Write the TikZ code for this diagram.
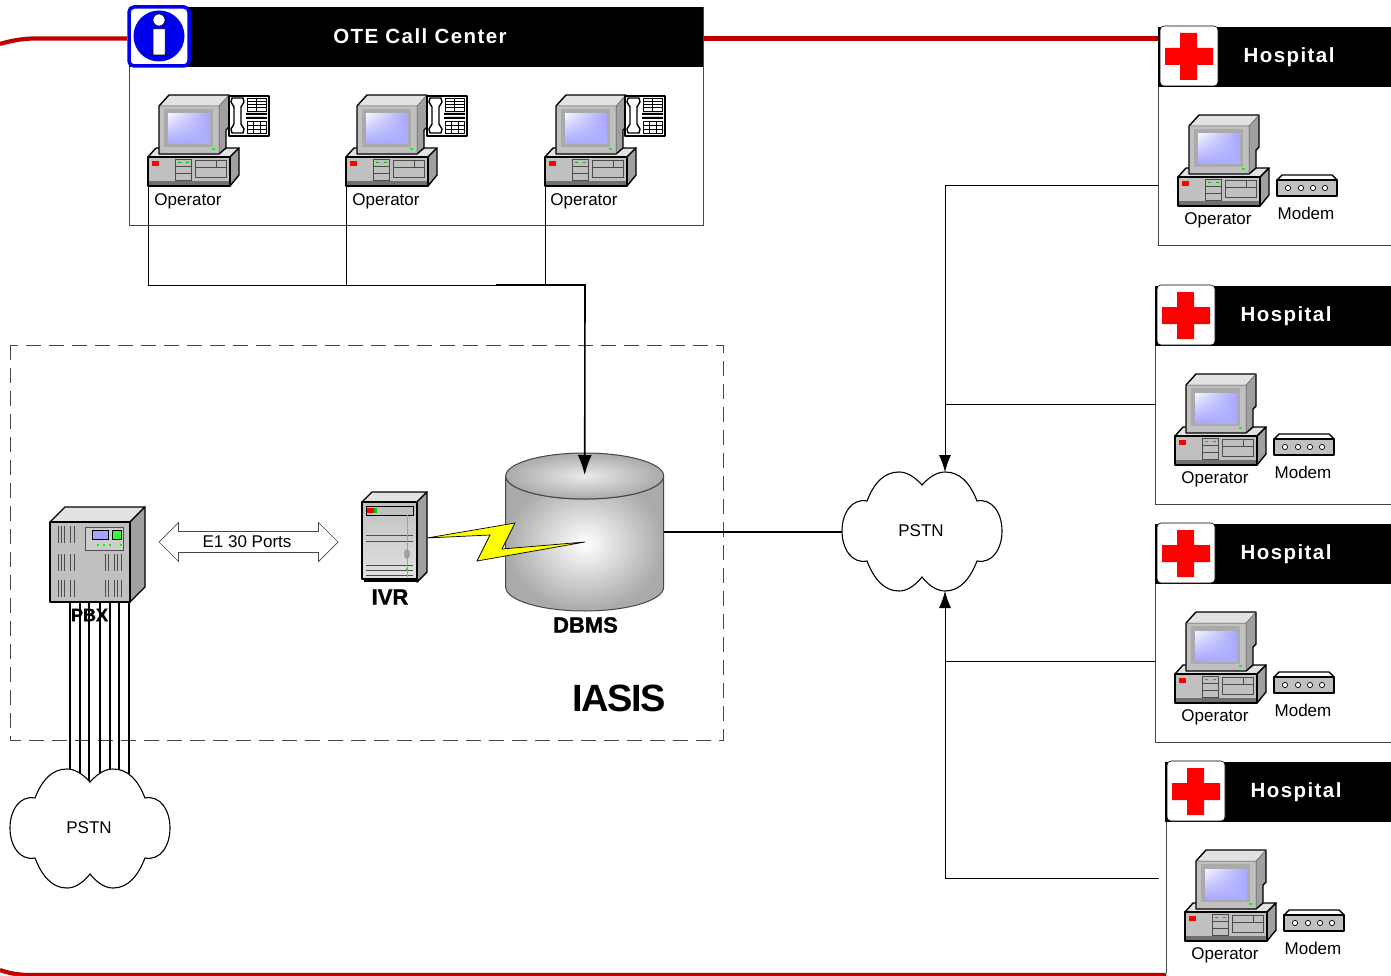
\documentclass[tikz,border=0pt]{standalone}
\usepackage{fontspec}
\setmainfont{Liberation Sans}
\newfontfamily\spacedfont[LetterSpace=7]{Liberation Sans}
\newfontfamily\tightfont[LetterSpace=-4]{Liberation Sans}
\newfontfamily\heavyfont[FakeBold=1.3]{Liberation Sans Bold}
\usetikzlibrary{arrows.meta,shapes.arrows,shadings}
\definecolor{ringred}{RGB}{192,0,0}
\definecolor{infoblue}{RGB}{0,0,240}
\definecolor{crossred}{RGB}{255,0,0}
\definecolor{boltyellow}{RGB}{255,255,0}
\definecolor{screenblue}{RGB}{165,165,255}
\definecolor{panelgrey}{RGB}{192,192,192}
\definecolor{bezelgrey}{RGB}{170,170,170}
\definecolor{sidegrey}{RGB}{160,160,160}
\definecolor{topgrey}{RGB}{226,226,226}
\definecolor{framegrey}{RGB}{70,70,70}
\begin{document}
\begin{tikzpicture}[x=1pt, y=-1pt]
\tikzset{
    lbl/.style={font=\fontsize{17}{20}\selectfont, inner sep=0pt},
    boldlbl/.style={font=\heavyfont\fontsize{#1}{#1}\selectfont, inner sep=0pt},
    headtext/.style={font=\spacedfont\bfseries\fontsize{20.5}{24}\selectfont, text=white, inner sep=0pt},
    frame/.style={draw=framegrey, line width=0.8pt},
    unit/.style={draw=black, line width=1.4pt, line join=round},
    fine/.style={draw=black!70, line width=0.5pt},
    link/.style={draw=black, line width=0.8pt},
    feed/.style={draw=black, line width=1.6pt},
    ring/.style={draw=ringred, line width=4.2pt},
    computer/.pic={
        \path[unit, fill=topgrey] (0,62) -- (8,53) -- (91,53) -- (82,62) -- cycle;
        \path[unit, fill=sidegrey] (82,62) -- (91,53) -- (91,80) -- (82,91) -- cycle;
        \path[unit, fill=panelgrey] (0,62) rectangle (82,91);
        \fill[sidegrey!70!black] (1,86) rectangle (81,90);
        \fill[crossred] (4,66) rectangle (11,71);
        \path[fine, fill=panelgrey] (27,64) rectangle (43,85);
        \draw[fine] (27,71) -- (43,71) (27,78) -- (43,78);
        \fill[green!80!black] (30,67) rectangle (33,68) (38,67) rectangle (41,68);
        \path[fine, fill=panelgrey] (47,65) rectangle (78,82);
        \draw[fine] (47,72) -- (78,72) (68,65) -- (68,72);
        \fill[sidegrey] (71,11) -- (81,0) -- (81,32) -- (78,35) -- (78,53) -- (71,59) -- cycle;
        \fill[topgrey] (11,11) -- (21,0) -- (81,0) -- (71,11) -- cycle;
        \fill[panelgrey] (11,11) rectangle (71,59);
        \path[unit] (11,59) -- (11,11) -- (21,0) -- (81,0) -- (81,32) -- (78,35) -- (78,53) -- (71,59) -- cycle;
        \draw[fine] (11,11) -- (71,11) -- (81,0) (71,11) -- (71,59);
        \fill[bezelgrey] (16,14) rectangle (65,52);
        \shade[upper left=white!90!screenblue, upper right=screenblue, lower left=screenblue, lower right=screenblue!90!white] (20,19) rectangle (62,49);
        \fill[green] (64,53) rectangle (67,55);
        \coordinate (-foot) at (0.7,91);
    },
    phone/.pic={
        \path[unit, fill=white] (0,0) rectangle (40,40);
        \draw[black, line width=1.4pt, line join=round] (3,2) -- (14,2) -- (15,6) -- (12,11) -- (12,28) -- (15,33) -- (14,37) -- (3,37) -- (2,33) -- (5,28) -- (5,11) -- (2,6) -- cycle;
        \draw[black, line width=0.7pt] (18,2) rectangle (37,15) (27,2) -- (27,15);
        \foreach \gy in {5,8,11} \draw[black, line width=0.7pt] (18,\gy) -- (37,\gy);
        \fill[black] (17,17) rectangle (38,19) (17,21) rectangle (38,23);
        \draw[black, line width=0.7pt] (18,25) rectangle (37,37);
        \foreach \gy in {29,33} \draw[black, line width=0.7pt] (18,\gy) -- (37,\gy);
        \foreach \gx in {24,31} \draw[black, line width=0.7pt] (\gx,25) -- (\gx,37);
    },
    modem/.pic={
        \path[unit, fill=white] (0,5) -- (5,0) -- (55,0) -- (60,5) -- cycle;
        \path[unit, fill=panelgrey] (0,5) rectangle (60,21);
        \foreach \mx in {11,24,36,48} \draw[black, fill=white, line width=0.7pt] (\mx,13) circle (2.6);
    },
    hospital/.pic={
        \fill[black] (0,0) rectangle (240,60);
        \path[draw=black, line width=0.6pt, fill=white, rounded corners=4pt] (2,-1) rectangle (60,59);
        \fill[crossred] (22,6) -- (39,6) -- (39,21) -- (55,21) -- (55,38) -- (39,38) -- (39,53) -- (22,53) -- (22,38) -- (7,38) -- (7,21) -- (22,21) -- cycle;
        \node[headtext] (-title) at (131,30) {Hospital};
        \pic at (20,88) {computer};
        \pic at (119,148) {modem};
        \node[lbl] (-operator) at (60,193) {Operator};
        \node[lbl] (-modem) at (148,186) {Modem};
    },
    cloud/.pic={
        \path[draw=black, line width=1.1pt, fill=white] (80,14) .. controls (88,5) and (96,1) .. (103,1)
            .. controls (118,1) and (128,12) .. (135,30) .. controls (150,27) and (160,42) .. (160,60)
            .. controls (160,78) and (150,93) .. (135,90) .. controls (128,108) and (118,120) .. (103,120)
            .. controls (96,120) and (88,116) .. (80,106) .. controls (72,116) and (64,120) .. (57,120)
            .. controls (42,120) and (32,108) .. (25,90) .. controls (10,93) and (0,78) .. (0,60)
            .. controls (0,42) and (10,27) .. (25,30) .. controls (32,12) and (42,1) .. (57,1)
            .. controls (64,1) and (72,5) .. (80,14) -- cycle;
        \node[lbl] (-text) at (79,60) {PSTN};
        \coordinate (-north) at (103,1);
        \coordinate (-south) at (103,120);
        \coordinate (-west) at (0,61);
    },
    pbxunit/.pic={
        \path[unit, fill=topgrey] (0,15) -- (15,0) -- (95,0) -- (80,15) -- cycle;
        \path[unit, fill=sidegrey] (80,15) -- (95,0) -- (95,80) -- (80,95) -- cycle;
        \path[unit, fill=panelgrey] (0,15) rectangle (80,95);
        \foreach \vy in {19,47,73} \foreach \vx in {8,11,14,20,24} \draw[fine] (\vx,\vy) -- (\vx,\vy+17);
        \foreach \vy in {47,73} \foreach \vx in {55,58,64,67,71} \draw[fine] (\vx,\vy) -- (\vx,\vy+17);
        \path[fine, fill=panelgrey!80!white] (35,20) rectangle (73,43);
        \path[draw=black, line width=0.7pt, fill=screenblue] (42,23) rectangle (58,32);
        \path[draw=black, line width=0.7pt, fill=green!80] (62,23) rectangle (71,32);
        \foreach \dx in {47,53,59,70} \fill[green] (\dx,37) rectangle (\dx+2,39);
        \coordinate (-foot) at (39,95);
    },
    ivrunit/.pic={
        \path[unit, fill=topgrey] (0,10) -- (10,0) -- (65,0) -- (55,10) -- cycle;
        \path[unit, fill=sidegrey] (55,10) -- (65,0) -- (65,80) -- (55,90) -- cycle;
        \path[unit, top color=panelgrey, bottom color=topgrey] (0,10) rectangle (55,87);
        \fill[black] (2,87) rectangle (57,90);
        \path[draw=black, line width=0.5pt, fill=panelgrey] (4,14) rectangle (51,23);
        \fill[crossred] (5,16) rectangle (12,21);
        \fill[green!80!black] (12,16) rectangle (15,21);
        \foreach \ly in {43,49,73,78,83} \draw[fine] (4,\ly) -- (51,\ly);
        \draw[sidegrey, line width=1pt] (45,23) -- (45,85);
        \fill[sidegrey] (45,62) ellipse (3 and 5);
        \fill[green] (44,76) rectangle (46,78);
        \coordinate (-east) at (65,46);
    },
    dbunit/.pic={
        \path[draw=framegrey, line width=1pt, inner color=white, outer color=bezelgrey] (0,23) -- (0,134) arc[start angle=180, end angle=0, x radius=79, y radius=24] -- (158,23) arc[start angle=0, end angle=180, x radius=79, y radius=23] -- cycle;
        \path[draw=framegrey, line width=1pt, inner color=white!92!black, outer color=bezelgrey] (79,23) ellipse (79 and 23);
        \coordinate (-top) at (79,22);
        \coordinate (-east) at (158,79);
    },
}
\useasboundingbox (0,0) rectangle (1391,976);

% frames
\draw[ring] (0,44) .. controls (10,41) and (22,38.5) .. (35,38.5) -- (127,38.5);
\draw[ring] (703,38.5) -- (1158,38.5);
\draw[ring] (0,970) .. controls (8,973) and (18,975) .. (30,975) -- (1166,975);
\draw[frame] (129,7) rectangle (703,225);
\fill[black] (129,7) rectangle (703,67);
\draw[frame, dash pattern=on 15pt off 8pt] (10,345) rectangle (723,740);

% named ends
\coordinate (pbxlines) at (89,602);
\coordinate (cloudlines) at (89,800);
\coordinate (busTap) at (496,285);
\coordinate (busEnd) at (585,285);
\coordinate (tapA) at (1158,185);
\coordinate (tapB) at (1155,404);
\coordinate (tapC) at (1155,661);
\coordinate (tapD) at (1159,878);

% pbx lines go under the cloud
\foreach \tx in {-19,-9,0,11,21,30,40}
    \draw[line width=1.3pt] ([xshift=\tx pt]pbxlines) -- ([xshift=\tx pt]cloudlines);

% call center
\path[draw=infoblue, line width=3.5pt, fill=white, rounded corners=5pt] (129,7) rectangle (189,66);
\fill[infoblue] (159,36) circle (25.5);
\draw[black, line width=0.5pt, fill=white] (159,20) circle (6);
\path[draw=black, line width=0.5pt, fill=white] (153,29) -- (165,29) -- (165,54) -- (168,55) -- (150,55) -- (153,54) -- cycle;
\node[headtext] (title) at (420,36) {OTE Call Center};

\pic (opA) at (148,95) {computer};
\pic (opB) at (346,95) {computer};
\pic (opC) at (545,95) {computer};
\pic (telA) at (229,96) {phone};
\pic (telB) at (427,96) {phone};
\pic (telC) at (625,96) {phone};
\node[lbl] (opAtext) at (188,201) {Operator};
\node[lbl] (opBtext) at (386,201) {Operator};
\node[lbl] (opCtext) at (584,201) {Operator};

% hospitals
\pic (hospA) at (1158,27) {hospital};
\pic (hospB) at (1155,286) {hospital};
\pic (hospC) at (1155,524) {hospital};
\pic (hospD) at (1165,762) {hospital};
\draw[frame] (1158,87) |- (1391,245);
\draw[frame] (1155,346) |- (1391,504);
\draw[frame] (1155,584) |- (1391,742);
\draw[frame] (1166,822) -- (1166,973);

% iasis
\pic (pbx) at (50,507) {pbxunit};
\pic (ivr) at (362,492) {ivrunit};
\pic (db) at (505.7,453) {dbunit};
\pic (pstnA) at (10,768) {cloud};
\pic (pstnB) at (842,471) {cloud};
\node[boldlbl=18] (pbxtext) at (89.5,615) {PBX};
\node[boldlbl=22] (ivrtext) at (390,597) {IVR};
\node[boldlbl=22] (dbtext) at (585.5,625) {DBMS};
\node[font=\tightfont\bfseries\fontsize{38}{40}\selectfont, inner sep=0pt] (iasis) at (619,698) {IASIS};
\node[lbl, double arrow, draw=framegrey, line width=0.7pt, minimum width=39pt, minimum height=179pt, double arrow head extend=8pt, inner sep=3pt] (ports) at (248.5,542) {\kern-3pt E1 30 Ports};

% bolt
\path[draw=black, line width=0.7pt, fill=boltyellow] (ivr-east) -- (515,523) -- (502,549) -- (585,542) -- (477,561) -- (490,535) -- cycle;

% arrows
\draw[link] (opA-foot) |- (busEnd);
\draw[link] (opB-foot) -- (opB-foot |- busEnd);
\draw[link] (opC-foot) -- (opC-foot |- busEnd);
\draw[feed, -{Latex[length=20pt,width=14pt]}] (busTap) -- (busEnd) -- (db-top);
\draw[feed] (db-east) -- (pstnB-west);
\draw[link, -{Latex[length=17pt,width=12pt]}] (tapA) -| (pstnB-north);
\draw[link] (tapB) -- (tapB -| pstnB-north);
\draw[link, -{Latex[length=17pt,width=12pt]}] (tapD) -| (pstnB-south);
\draw[link] (tapC) -- (tapC -| pstnB-south);
\end{tikzpicture}
\end{document}
